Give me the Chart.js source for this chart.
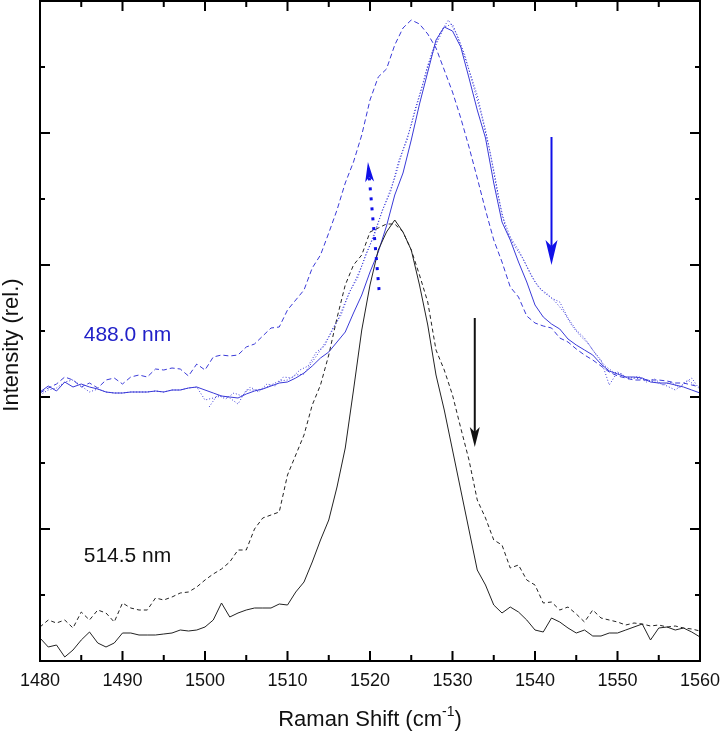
<!DOCTYPE html>
<html>
<head>
<meta charset="utf-8">
<script src="https://cdn.jsdelivr.net/npm/chart.js@4.4.0/dist/chart.umd.min.js"></script>
<style>
  html, body { margin: 0; padding: 0; background: #fff; }
  #wrap { width: 720px; height: 732px; }
</style>
</head>
<body>
<div id="wrap"><canvas id="ramanChart" width="720" height="732"></canvas></div>
<script>
// Raman shift grid (cm-1)
const ramanShift = [
  1480, 1481, 1482, 1483, 1484, 1485, 1486, 1487, 1488, 1489,
  1490, 1491, 1492, 1493, 1494, 1495, 1496, 1497, 1498, 1499,
  1500, 1501, 1502, 1503, 1504, 1505, 1506, 1507, 1508, 1509,
  1510, 1511, 1512, 1513, 1514, 1515, 1516, 1517, 1518, 1519,
  1520, 1521, 1522, 1523, 1524, 1525, 1526, 1527, 1528, 1529,
  1530, 1531, 1532, 1533, 1534, 1535, 1536, 1537, 1538, 1539,
  1540, 1541, 1542, 1543, 1544, 1545, 1546, 1547, 1548, 1549,
  1550, 1551, 1552, 1553, 1554, 1555, 1556, 1557, 1558, 1559, 1560
];
const ramanShiftHalf = [
  1500.5, 1501.5, 1502.5, 1503.5, 1504.5, 1505.5, 1506.5, 1507.5, 1508.5, 1509.5,
  1510.5, 1511.5, 1512.5, 1513.5, 1514.5, 1515.5, 1516.5, 1517.5, 1518.5, 1519.5,
  1520.5, 1521.5, 1522.5, 1523.5, 1524.5, 1525.5, 1526.5, 1527.5, 1528.5, 1529.5,
  1530.5, 1531.5, 1532.5, 1533.5, 1534.5, 1535.5, 1536.5, 1537.5, 1538.5, 1539.5,
  1540.5, 1541.5, 1542.5, 1543.5, 1544.5, 1545.5, 1546.5, 1547.5, 1548.5, 1549.5,
  1550.5, 1551.5, 1552.5, 1553.5, 1554.5, 1555.5, 1556.5, 1557.5, 1558.5, 1559.5
];

// 514.5 nm excitation (arbitrary intensity units)
const black514Solid = [
  23, 14, 16, 4, 11, 21, 29, 18, 14, 18,
  28, 28, 26, 26, 26, 27, 28, 31, 30, 31,
  34, 41, 58, 44, 48, 51, 53, 53, 53, 57,
  56, 69, 79, 99, 121, 141, 174, 213, 271, 331,
  376, 411, 429, 441, 429, 411, 376, 336, 286, 251,
  211, 171, 131, 91, 76, 56, 48, 54, 49, 41,
  31, 29, 43, 39, 33, 28, 31, 25, 25, 28,
  28, 31, 34, 37, 21, 33, 34, 31, 33, 29, 24
];
const black514Dashed = [
  34, 41, 38, 41, 33, 49, 41, 51, 48, 39,
  58, 53, 51, 51, 63, 61, 64, 68, 69, 74,
  81, 87, 92, 99, 111, 111, 132, 143, 146, 149,
  186, 206, 226, 256, 276, 306, 343, 376, 396, 406,
  429, 433, 437, 437, 429, 411, 386, 359, 311, 291,
  266, 233, 201, 161, 143, 121, 116, 93, 96, 81,
  76, 58, 59, 51, 54, 47, 39, 51, 43, 41,
  39, 36, 38, 37, 35, 36, 34, 35, 33, 32, 30
];

// 488.0 nm excitation (offset upward)
const blue488Solid = [
  269, 275, 270, 279, 274, 277, 274, 272, 269, 268,
  268, 269, 269, 269, 270, 269, 271, 271, 273, 274,
  271, 268, 265, 264, 263, 267, 270, 272, 275, 278,
  279, 283, 288, 295, 303, 309, 319, 329, 348, 366,
  389, 409, 435, 466, 488, 521, 557, 589, 621, 634,
  630, 614, 583, 551, 523, 478, 439, 421, 399, 379,
  356, 344, 337, 332, 322, 316, 311, 306, 297, 290,
  287, 284, 284, 283, 279, 278, 278, 276, 274, 271, 268
];
const blue488Dashed = [
  268, 273, 277, 284, 281, 274, 278, 273, 281, 283,
  277, 284, 286, 284, 292, 291, 293, 292, 285, 297,
  291, 304, 306, 305, 306, 314, 317, 325, 333, 334,
  351, 361, 371, 393, 406, 428, 451, 478, 499, 526,
  561, 584, 592, 616, 633, 641, 637, 627, 613, 591,
  569, 543, 514, 483, 451, 421, 399, 374, 364, 345,
  338, 335, 333, 323, 319, 312, 306, 301, 295, 289,
  285, 283, 281, 281, 281, 281, 280, 278, 278, 276, 274
];
const blue488DottedA = [
  266, 271, 273, 279, 281, 275, 269, 272, 269, 268,
  268, 269, 269, 269, 270, 269, 271, 271, 273, 274,
  261, 263, 265, 263, 257, 271, 271, 272, 276, 280,
  281, 286, 287, 299, 311, 324, 339, 359, 377, 395,
  416, 439, 461, 483, 511, 536, 565, 596, 616, 634,
  637, 616, 591, 566, 531, 491, 446, 424, 411, 395,
  379, 369, 363, 359, 343, 331, 323, 311, 301, 276,
  289, 284, 283, 282, 280, 278, 275, 271, 277, 283, 271
];
const blue488DottedB = [
  254, 266, 262, 268, 265, 274, 269, 277, 275, 284,
  283, 291, 295, 309, 315, 333, 346, 369, 383, 407,
  425, 451, 469, 501, 521, 553, 579, 609, 628, 641,
  627, 606, 576, 546, 511, 466, 431, 415, 403, 386,
  373, 367, 359, 349, 335, 325, 317, 305, 295, 289,
  287, 281, 285, 279, 282, 276, 279, 273, 281, 275
];

const xTicks = [1480, 1490, 1500, 1510, 1520, 1530, 1540, 1550, 1560];
const seriesLabels = ['488.0 nm', '514.5 nm'];

const fontFamily = "'Liberation Sans', Arial, sans-serif";
const blueLine = '#3a3ad8';
const blueText = '#2020c8';
const blueArrow = '#1010e8';

// annotations in data coordinates
const labelSpots = [
  { text: seriesLabels[0], x: 1485.3, y: 326, color: blueText },
  { text: seriesLabels[1], x: 1485.3, y: 105, color: '#111' }
];
const arrows = [
  { from: [1542.0, 524], to: [1542.0, 396], color: blueArrow, head: 25, width: 12 },
  { from: [1532.7, 343], to: [1532.7, 214], color: '#111', head: 20, width: 10 },
  { from: [1521.1, 371], to: [1519.75, 499], color: blueArrow, head: 20, width: 9, dotted: true }
];

const toPoints = (xs, ys) => xs.map((x, i) => ({ x: x, y: ys[i] }));

function drawArrow(ctx, x0, y0, x1, y1, a) {
  const ang = Math.atan2(y1 - y0, x1 - x0);
  const c = Math.cos(ang), s = Math.sin(ang);
  const bx = x1 - a.head * c, by = y1 - a.head * s;
  const nx = x1 - a.head * 0.75 * c, ny = y1 - a.head * 0.75 * s;
  const hw = a.width / 2;
  ctx.strokeStyle = a.color;
  ctx.fillStyle = a.color;
  if (a.dotted) {
    ctx.lineWidth = 3;
    ctx.setLineDash([3, 7]);
  } else {
    ctx.lineWidth = 2;
    ctx.setLineDash([]);
  }
  ctx.beginPath();
  ctx.moveTo(x0, y0);
  ctx.lineTo(nx, ny);
  ctx.stroke();
  ctx.setLineDash([]);
  ctx.beginPath();
  ctx.moveTo(x1, y1);
  ctx.lineTo(bx - hw * s, by + hw * c);
  ctx.lineTo(nx, ny);
  ctx.lineTo(bx + hw * s, by - hw * c);
  ctx.closePath();
  ctx.fill();
}

const decorations = {
  id: 'decorations',
  afterDatasetsDraw(chart) {
    const { ctx, chartArea: area, scales: { x, y } } = chart;
    ctx.save();

    // frame
    ctx.strokeStyle = '#000';
    ctx.lineWidth = 2;
    ctx.strokeRect(area.left, area.top, area.right - area.left, area.bottom - area.top);

    // inward ticks
    ctx.beginPath();
    for (let v = 1480; v <= 1560; v += 5) {
      const px = x.getPixelForValue(v);
      const len = v % 10 === 0 ? 10 : 6;
      ctx.moveTo(px, area.bottom);
      ctx.lineTo(px, area.bottom - len);
      ctx.moveTo(px, area.top);
      ctx.lineTo(px, area.top + len);
    }
    for (let v = 0; v <= 660; v += 66) {
      const py = y.getPixelForValue(v);
      const len = v % 132 === 0 ? 10 : 5;
      ctx.moveTo(area.left, py);
      ctx.lineTo(area.left + len, py);
      ctx.moveTo(area.right, py);
      ctx.lineTo(area.right - len, py);
    }
    ctx.stroke();

    // arrows
    arrows.forEach(a => {
      drawArrow(ctx,
        x.getPixelForValue(a.from[0]), y.getPixelForValue(a.from[1]),
        x.getPixelForValue(a.to[0]), y.getPixelForValue(a.to[1]), a);
    });

    // series labels
    ctx.font = '21px ' + fontFamily;
    ctx.textAlign = 'left';
    ctx.textBaseline = 'middle';
    labelSpots.forEach(l => {
      ctx.fillStyle = l.color;
      ctx.fillText(l.text, x.getPixelForValue(l.x), y.getPixelForValue(l.y));
    });

    // x axis title with superscript
    ctx.fillStyle = '#111';
    ctx.textBaseline = 'alphabetic';
    const main = 'Raman Shift (cm';
    const sup = '-1';
    const close = ')';
    ctx.font = '22px ' + fontFamily;
    const wMain = ctx.measureText(main).width;
    const wClose = ctx.measureText(close).width;
    ctx.font = '14px ' + fontFamily;
    const wSup = ctx.measureText(sup).width;
    const cx = (area.left + area.right) / 2;
    let tx = cx - (wMain + wSup + wClose) / 2;
    const base = 726;
    ctx.font = '22px ' + fontFamily;
    ctx.fillText(main, tx, base);
    tx += wMain;
    ctx.font = '14px ' + fontFamily;
    ctx.fillText(sup, tx, base - 10);
    tx += wSup;
    ctx.font = '22px ' + fontFamily;
    ctx.fillText(close, tx, base);

    // y axis title
    ctx.save();
    ctx.translate(12, 345);
    ctx.rotate(-Math.PI / 2);
    ctx.textAlign = 'center';
    ctx.textBaseline = 'middle';
    ctx.fillText('Intensity (rel.)', 0, 0);
    ctx.restore();

    ctx.restore();
  }
};

const ctx = document.getElementById('ramanChart').getContext('2d');
new Chart(ctx, {
  type: 'line',
  data: {
    datasets: [
      { label: '514.5 nm dashed', data: toPoints(ramanShift, black514Dashed), borderColor: '#222', borderWidth: 1, borderDash: [4, 3] },
      { label: '514.5 nm', data: toPoints(ramanShift, black514Solid), borderColor: '#222', borderWidth: 1 },
      { label: '488.0 nm dashed', data: toPoints(ramanShift, blue488Dashed), borderColor: blueLine, borderWidth: 1, borderDash: [5, 3] },
      { label: '488.0 nm dotted a', data: toPoints(ramanShift, blue488DottedA), borderColor: blueLine, borderWidth: 1, borderDash: [1, 2] },
      { label: '488.0 nm dotted b', data: toPoints(ramanShiftHalf, blue488DottedB), borderColor: blueLine, borderWidth: 1, borderDash: [1, 2] },
      { label: '488.0 nm', data: toPoints(ramanShift, blue488Solid), borderColor: blueLine, borderWidth: 1 }
    ]
  },
  options: {
    responsive: false,
    animation: false,
    events: [],
    layout: { padding: { left: 40, right: 20, top: 1, bottom: 0 } },
    elements: { point: { radius: 0 }, line: { tension: 0 } },
    plugins: {
      legend: { display: false },
      tooltip: { enabled: false }
    },
    scales: {
      x: {
        type: 'linear',
        min: 1480,
        max: 1560,
        afterFit(scale) {
          scale.height = 71;
          scale.paddingLeft = 0;
          scale.paddingRight = 0;
        },
        afterBuildTicks(scale) { scale.ticks = xTicks.map(v => ({ value: v })); },
        grid: { display: false, drawTicks: false },
        border: { display: false },
        ticks: {
          padding: 9,
          color: '#111',
          maxRotation: 0,
          autoSkip: false,
          font: { size: 18, family: fontFamily },
          callback: v => String(v)
        }
      },
      y: {
        display: false,
        min: 0,
        max: 660
      }
    }
  },
  plugins: [decorations]
});
</script>
</body>
</html>
